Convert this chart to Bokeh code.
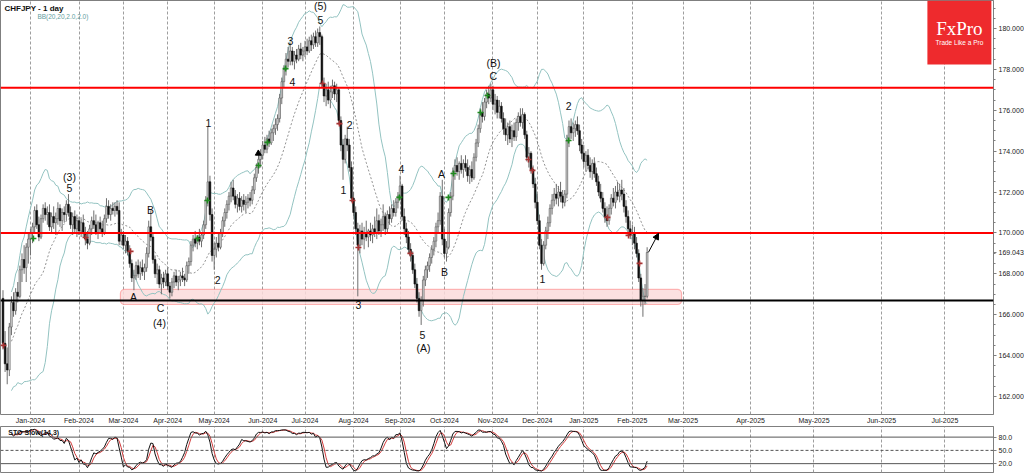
import numpy as np
import pandas as pd
from bokeh.plotting import figure
from bokeh.layouts import column
from bokeh.models import (ColumnDataSource, Range1d, Span, BoxAnnotation, Label,
                          FixedTicker, NumeralTickFormatter, Arrow, NormalHead)
from bokeh.core.properties import value
from bokeh.embed import file_html
from bokeh.resources import INLINE

# ---------------- data (daily CHFJPY bars, index 0 = mid Dec 2023) ----------------
opens = [
    166.8, 164.6, 163.6, 163.3, 165.4, 166.6, 166.2, 167.1, 166.9, 168.2,
    168.7, 168.3, 169.3, 169.7, 170.0, 170.3, 171.1, 170.4, 169.8, 170.7,
    171.2, 170.9, 171.0, 170.3, 170.8, 170.5, 170.7, 171.2, 170.6, 171.0,
    170.9, 171.4, 171.0, 170.4, 170.8, 170.2, 170.6, 170.1, 170.5, 170.0,
    169.7, 169.5, 170.2, 170.6, 170.4, 170.0, 170.5, 170.2, 170.0, 170.7,
    171.3, 170.9, 171.2, 171.1, 171.3, 171.1, 169.6, 169.9, 169.4, 169.6,
    169.1, 168.5, 167.8, 167.9, 168.4, 168.0, 168.3, 168.1, 168.3, 169.0,
    170.3, 169.8, 168.7, 168.0, 168.2, 167.5, 167.8, 167.6, 168.0, 167.4,
    167.1, 167.6, 167.9, 167.6, 167.7, 167.9, 167.8, 167.7, 168.4, 168.6,
    169.4, 169.7, 169.5, 169.8, 169.6, 169.9, 170.4, 171.6, 172.5, 170.9,
    168.9, 169.2, 169.5, 169.3, 170.0, 170.6, 171.0, 171.4, 171.8, 172.2,
    171.8, 171.4, 171.7, 171.3, 171.6, 171.4, 171.5, 171.7, 171.6, 172.1,
    172.7, 173.2, 173.6, 173.8, 174.3, 174.1, 174.6, 174.4, 174.9, 175.1,
    175.3, 175.6, 176.6, 177.4, 178.0, 178.5, 178.4, 178.9, 178.4, 178.7,
    178.5, 179.0, 178.7, 178.9, 179.1, 178.9, 179.4, 179.2, 179.6, 179.3,
    179.8, 179.6, 177.3, 176.7, 177.0, 176.5, 176.9, 177.2, 176.8, 177.0,
    175.5, 174.3, 173.6, 174.6, 174.3, 173.2, 171.7, 171.0, 170.2, 169.4,
    170.1, 169.7, 170.0, 169.8, 170.1, 169.9, 170.2, 170.0, 170.6, 170.1,
    170.4, 170.8, 170.2, 170.9, 170.7, 171.2, 171.0, 171.5, 171.8, 172.3,
    170.8, 170.2, 169.8, 169.2, 168.9, 168.2, 167.5, 166.8, 166.2, 166.7,
    167.7, 168.2, 168.4, 168.8, 169.2, 169.6, 170.3, 170.6, 171.8, 169.7,
    169.0, 169.3, 171.0, 171.8, 173.0, 173.3, 173.0, 173.4, 173.1, 173.4,
    173.2, 172.8, 173.1, 172.7, 173.7, 174.4, 175.1, 175.9, 175.7, 176.4,
    176.8, 176.6, 177.0, 176.3, 176.5, 175.9, 176.2, 175.6, 175.1, 174.8,
    175.2, 174.6, 175.0, 174.7, 175.4, 175.7, 175.4, 175.8, 174.8, 173.7,
    173.9, 173.1, 172.4, 171.5, 170.6, 169.4, 168.5, 169.4, 170.1, 170.5,
    171.2, 171.6, 171.9, 171.7, 172.0, 171.8, 171.5, 171.9, 174.5, 175.2,
    174.9, 175.1, 175.3, 175.0, 174.3, 173.9, 173.5, 173.8, 173.3, 173.0,
    173.4, 172.9, 172.5, 172.0, 171.7, 171.2, 170.8, 170.6, 171.2, 171.7,
    171.5, 172.0, 171.8, 172.1, 171.9, 171.3, 170.8, 170.2, 169.9, 170.0,
    169.5, 169.0, 167.8, 166.7, 166.9, 166.9,
]
highs = [
    167.2, 165.2, 164.4, 165.6, 166.9, 167.1, 167.3, 167.6, 168.4, 169.0,
    169.4, 169.5, 170.0, 170.2, 170.5, 171.3, 171.4, 170.8, 170.9, 171.4,
    171.5, 171.3, 171.4, 171.0, 171.3, 171.0, 171.5, 171.4, 171.2, 171.3,
    171.6, 171.9, 171.3, 171.0, 171.1, 170.9, 170.8, 170.7, 170.9, 170.3,
    170.1, 170.4, 170.8, 171.1, 170.9, 170.6, 170.8, 170.6, 170.9, 171.7,
    171.6, 171.4, 171.5, 171.5, 171.6, 171.5, 170.2, 170.1, 169.9, 169.8,
    169.4, 168.7, 168.2, 168.6, 168.7, 168.6, 168.7, 168.5, 169.3, 170.6,
    171.1, 170.0, 168.9, 168.5, 168.4, 168.0, 168.1, 168.2, 168.3, 167.6,
    167.8, 168.1, 168.2, 167.9, 168.1, 168.3, 168.0, 168.6, 168.8, 169.6,
    169.9, 170.1, 169.9, 170.2, 170.0, 170.6, 171.8, 175.2, 172.8, 171.2,
    169.5, 169.8, 170.0, 170.2, 170.8, 171.2, 171.6, 172.0, 172.5, 172.6,
    172.1, 171.9, 172.0, 171.8, 171.9, 171.8, 171.9, 172.0, 172.3, 172.9,
    173.4, 173.9, 174.1, 174.5, 174.7, 174.8, 175.0, 175.1, 175.3, 175.6,
    175.8, 176.8, 177.6, 178.2, 178.8, 179.1, 179.3, 179.1, 178.9, 179.0,
    179.2, 179.3, 179.1, 179.4, 179.5, 179.6, 179.7, 179.8, 179.9, 180.0,
    180.1, 179.7, 177.6, 177.3, 177.4, 177.2, 177.5, 177.4, 177.3, 177.1,
    175.7, 174.6, 174.8, 175.2, 174.6, 173.5, 172.0, 171.3, 170.5, 170.4,
    170.5, 170.3, 170.6, 170.2, 170.5, 170.4, 170.8, 171.2, 170.9, 170.7,
    171.4, 171.0, 171.1, 171.3, 171.4, 171.6, 171.7, 172.0, 172.8, 172.4,
    171.2, 170.5, 170.1, 169.5, 169.1, 168.5, 167.8, 167.1, 166.9, 167.9,
    168.4, 168.6, 169.0, 169.4, 169.8, 170.5, 171.0, 172.0, 172.6, 170.2,
    169.6, 171.2, 172.0, 173.2, 173.6, 173.7, 173.5, 173.8, 173.6, 173.8,
    173.6, 173.3, 173.5, 173.9, 174.6, 175.3, 176.1, 176.4, 176.6, 177.0,
    177.2, 177.3, 177.2, 176.8, 176.7, 176.5, 176.4, 175.9, 175.6, 175.4,
    175.5, 175.3, 175.4, 175.6, 175.9, 176.1, 176.1, 175.9, 175.0, 174.2,
    174.0, 173.3, 172.7, 171.9, 170.9, 169.7, 169.6, 170.3, 170.8, 171.4,
    171.9, 172.2, 172.4, 172.3, 172.5, 172.1, 172.1, 174.8, 175.5, 175.6,
    175.4, 175.5, 175.7, 175.3, 174.6, 174.3, 174.0, 174.1, 173.7, 173.6,
    173.7, 173.2, 172.8, 172.4, 172.0, 171.5, 171.3, 171.4, 171.9, 172.2,
    172.3, 172.5, 172.4, 172.6, 172.2, 171.6, 171.1, 170.6, 170.4, 170.3,
    169.8, 169.2, 168.0, 167.3, 167.5, 169.3,
]
lows = [
    164.3, 163.2, 162.6, 163.0, 165.0, 165.9, 166.0, 166.6, 166.8, 167.6,
    168.0, 167.6, 168.5, 168.9, 169.5, 170.0, 170.2, 169.6, 169.7, 170.5,
    170.6, 170.4, 170.1, 170.0, 170.2, 169.9, 170.4, 170.3, 170.1, 170.5,
    170.6, 170.8, 170.2, 169.9, 170.0, 169.8, 169.9, 169.8, 169.8, 169.4,
    169.2, 169.4, 169.9, 170.2, 169.9, 169.7, 170.0, 169.8, 169.9, 170.5,
    170.7, 170.6, 170.9, 170.8, 170.9, 169.4, 169.4, 169.2, 169.0, 168.9,
    168.3, 167.6, 167.2, 167.7, 167.8, 167.7, 167.9, 167.7, 168.1, 168.8,
    169.6, 168.5, 167.8, 167.5, 167.3, 167.0, 167.3, 167.4, 167.2, 166.8,
    166.9, 167.3, 167.4, 167.2, 167.4, 167.6, 167.4, 167.6, 168.0, 168.4,
    169.1, 169.3, 169.2, 169.4, 169.3, 169.7, 170.2, 171.3, 170.6, 168.6,
    168.2, 168.8, 169.1, 169.2, 169.8, 170.3, 170.7, 171.1, 171.5, 171.6,
    171.2, 171.0, 171.1, 171.0, 171.1, 171.0, 171.2, 171.3, 171.4, 171.9,
    172.5, 172.9, 173.2, 173.6, 173.9, 173.9, 174.2, 174.3, 174.5, 174.8,
    175.0, 175.4, 176.3, 177.1, 177.7, 178.1, 178.2, 178.2, 178.0, 178.3,
    178.4, 178.5, 178.4, 178.6, 178.7, 178.8, 178.9, 179.0, 179.1, 179.1,
    179.2, 177.1, 176.4, 176.2, 176.3, 176.1, 176.6, 176.5, 176.4, 175.3,
    174.0, 172.6, 173.4, 174.0, 173.0, 171.5, 170.8, 169.9, 166.9, 169.0,
    169.4, 169.2, 169.6, 169.3, 169.6, 169.5, 169.8, 169.7, 169.9, 169.8,
    170.1, 169.9, 170.0, 170.4, 170.5, 170.8, 170.8, 171.2, 171.6, 170.6,
    169.9, 169.5, 169.0, 168.6, 168.0, 167.3, 166.6, 165.9, 165.5, 166.4,
    167.4, 167.8, 168.1, 168.5, 168.9, 169.3, 170.0, 170.4, 169.4, 168.8,
    168.6, 169.2, 170.8, 171.6, 172.6, 172.8, 172.6, 172.9, 172.7, 173.0,
    172.5, 172.4, 172.5, 172.6, 173.5, 174.2, 174.9, 175.4, 175.5, 176.1,
    176.3, 176.4, 176.0, 175.8, 175.6, 175.6, 175.4, 174.8, 174.5, 174.3,
    174.4, 174.2, 174.5, 174.5, 175.0, 175.2, 175.1, 174.6, 173.5, 173.2,
    172.9, 172.2, 171.2, 170.4, 169.2, 168.2, 168.4, 169.2, 169.7, 170.3,
    170.9, 171.3, 171.4, 171.3, 171.5, 171.2, 171.3, 171.7, 174.2, 174.6,
    174.5, 174.7, 174.8, 174.0, 173.6, 173.2, 173.0, 173.1, 172.7, 172.6,
    172.7, 172.3, 171.8, 171.5, 171.0, 170.5, 170.3, 170.4, 170.9, 171.3,
    171.2, 171.6, 171.5, 171.6, 171.0, 170.5, 169.9, 169.7, 169.4, 169.2,
    168.8, 167.6, 166.4, 165.9, 166.5, 166.8,
]
closes = [
    164.6, 163.6, 163.3, 165.4, 166.6, 166.2, 167.1, 166.9, 168.2, 168.7,
    168.3, 169.3, 169.7, 170.0, 170.3, 171.1, 170.4, 169.8, 170.7, 171.2,
    170.9, 171.0, 170.3, 170.8, 170.5, 170.7, 171.2, 170.6, 171.0, 170.9,
    171.4, 171.0, 170.4, 170.8, 170.2, 170.6, 170.1, 170.5, 170.0, 169.7,
    169.5, 170.2, 170.6, 170.4, 170.0, 170.5, 170.2, 170.0, 170.7, 171.3,
    170.9, 171.2, 171.1, 171.3, 171.1, 169.6, 169.9, 169.4, 169.6, 169.1,
    168.5, 167.8, 167.9, 168.4, 168.0, 168.3, 168.1, 168.3, 169.0, 170.3,
    169.8, 168.7, 168.0, 168.2, 167.5, 167.8, 167.6, 168.0, 167.4, 167.1,
    167.6, 167.9, 167.6, 167.7, 167.9, 167.8, 167.7, 168.4, 168.6, 169.4,
    169.7, 169.5, 169.8, 169.6, 169.9, 170.4, 171.6, 172.5, 170.9, 168.9,
    169.2, 169.5, 169.3, 170.0, 170.6, 171.0, 171.4, 171.8, 172.2, 171.8,
    171.4, 171.7, 171.3, 171.6, 171.4, 171.5, 171.7, 171.6, 172.1, 172.7,
    173.2, 173.6, 173.8, 174.3, 174.1, 174.6, 174.4, 174.9, 175.1, 175.3,
    175.6, 176.6, 177.4, 178.0, 178.5, 178.4, 178.9, 178.4, 178.7, 178.5,
    179.0, 178.7, 178.9, 179.1, 178.9, 179.4, 179.2, 179.6, 179.3, 179.8,
    179.6, 177.3, 176.7, 177.0, 176.5, 176.9, 177.2, 176.8, 177.0, 175.5,
    174.3, 173.6, 174.6, 174.3, 173.2, 171.7, 171.0, 170.2, 169.4, 170.1,
    169.7, 170.0, 169.8, 170.1, 169.9, 170.2, 170.0, 170.6, 170.1, 170.4,
    170.8, 170.2, 170.9, 170.7, 171.2, 171.0, 171.5, 171.8, 172.3, 170.8,
    170.2, 169.8, 169.2, 168.9, 168.2, 167.5, 166.8, 166.2, 166.7, 167.7,
    168.2, 168.4, 168.8, 169.2, 169.6, 170.3, 170.6, 171.8, 169.7, 169.0,
    169.3, 171.0, 171.8, 173.0, 173.3, 173.0, 173.4, 173.1, 173.4, 173.2,
    172.8, 173.1, 172.7, 173.7, 174.4, 175.1, 175.9, 175.7, 176.4, 176.8,
    176.6, 177.0, 176.3, 176.5, 175.9, 176.2, 175.6, 175.1, 174.8, 175.2,
    174.6, 175.0, 174.7, 175.4, 175.7, 175.4, 175.8, 174.8, 173.7, 173.9,
    173.1, 172.4, 171.5, 170.6, 169.4, 168.5, 169.4, 170.1, 170.5, 171.2,
    171.6, 171.9, 171.7, 172.0, 171.8, 171.5, 171.9, 174.5, 175.2, 174.9,
    175.1, 175.3, 175.0, 174.3, 173.9, 173.5, 173.8, 173.3, 173.0, 173.4,
    172.9, 172.5, 172.0, 171.7, 171.2, 170.8, 170.6, 171.2, 171.7, 171.5,
    172.0, 171.8, 172.1, 171.9, 171.3, 170.8, 170.2, 169.9, 170.0, 169.5,
    169.0, 167.8, 166.7, 166.9, 166.9, 169.043,
]

month_labels = ["Jan-2024", "Feb-2024", "Mar-2024", "Apr-2024", "May-2024", "Jun-2024",
                "Jul-2024", "Aug-2024", "Sep-2024", "Oct-2024", "Nov-2024", "Dec-2024",
                "Jan-2025", "Feb-2025", "Mar-2025", "Apr-2025", "May-2025", "Jun-2025",
                "Jul-2025"]
month_pos = [13, 36, 57, 78, 100, 123, 143, 166, 188, 209, 232, 253, 275, 298,
             322, 354, 384, 416, 446]

price_ticks = [162, 164, 166, 168, 170, 172, 174, 176, 178, 180]
stoch_levels = [20, 50, 80]

resistance_levels = [177.1, 170.0]
support_level = 166.7
zone_left, zone_right = 55.6, 321.3
zone_bottom, zone_top = 166.5, 167.24
last_price = 169.043

wave_text = ["(3)", "5", "A", "B", "C", "(4)", "1", "2", "3", "4", "5", "(5)",
             "1", "2", "3", "4", "5", "(A)", "A", "B", "(B)", "C", "1", "2"]
wave_x = [31.5, 31.5, 61.8, 69.8, 74.6, 74.1, 97.3, 101.6, 136.1, 137.1, 150.3, 150.3,
          161.2, 164.1, 168.3, 188.7, 198.6, 199.1, 207.6, 209.0, 232.2, 232.2, 255.4, 267.8]
wave_y = [172.76, 172.18, 166.85, 171.10, 166.31, 165.62, 175.40, 167.68, 179.41, 177.36,
          180.44, 181.08, 172.08, 175.26, 166.50, 173.15, 164.99, 164.35, 172.86, 168.07,
          178.29, 177.70, 167.73, 176.19]

up_x = [14.4, 92.1, 96.8, 121.0, 125.2, 133.8, 187.7, 210.9, 213.3, 226.1, 229.4, 267.8]
up_y = [169.73, 169.73, 171.59, 173.30, 174.43, 178.04, 171.74, 171.74, 172.91, 175.89,
        176.72, 174.52]
down_x = [0.2, 39.1, 60.4, 151.3, 159.3, 165.5, 168.3, 192.9, 248.8, 250.7, 286.2, 296.2, 301.4]
down_y = [164.50, 169.78, 169.10, 177.31, 175.35, 171.59, 169.29, 169.0, 173.59, 173.06,
          170.76, 169.88, 168.51]
tri_x = [120.9]
tri_y = [173.89]
proj_start = (305.6, 169.05)
proj_end = (310.4, 169.98)

# ---------------- derived indicators ----------------
n = len(closes)
assert len(opens) == n and len(highs) == n and len(lows) == n
idx = np.arange(n)
cs = pd.Series(closes)
mid = cs.rolling(20, min_periods=5).mean()
sd = cs.rolling(20, min_periods=5).std(ddof=0)
upper = mid + 2 * sd
lower = mid - 2 * sd

hh = pd.Series(highs).rolling(14, min_periods=5).max()
ll = pd.Series(lows).rolling(14, min_periods=5).min()
fast = (cs - ll) / (hh - ll) * 100
k_line = fast.rolling(3, min_periods=1).mean()
d_line = k_line.rolling(3, min_periods=1).mean()

bull = [c >= o for o, c in zip(opens, closes)]
src = ColumnDataSource(dict(
    x=idx, o=opens, h=highs, l=lows, c=closes,
    top=[max(o, c) for o, c in zip(opens, closes)],
    bot=[min(o, c) for o, c in zip(opens, closes)],
    body=["#d6d6d6" if b else "#0d0d0d" for b in bull],
    edge=["#555555" if b else "#0d0d0d" for b in bull],
))

FONT = "Liberation Sans"
FW = 993
XR = Range1d(-1.18, 469.0)

p = figure(frame_width=FW, frame_height=414, x_range=XR, y_range=Range1d(161.12, 181.37),
           y_axis_location="right", toolbar_location=None, output_backend="svg",
           min_border_left=0, min_border_right=0, min_border_top=0, min_border_bottom=12,
           background_fill_color="white", border_fill_color="white",
           outline_line_color="#7f7f7f", outline_line_width=1)

# grid
p.ygrid.visible = False
p.xgrid.grid_line_color = "#9e9e9e"
p.xgrid.grid_line_dash = "3 2"
p.xgrid.grid_line_width = 1

# price axis (with the last-price tick)
minor = [162 + 0.5 * j for j in range(39)]
yax = p.yaxis[0]
yax.ticker = FixedTicker(ticks=price_ticks + [last_price], minor_ticks=minor)
yax.formatter = NumeralTickFormatter(format="0.000")
yax.major_label_text_font = FONT
yax.major_label_text_font_size = "7px"
yax.major_label_text_color = "#222222"
yax.axis_line_color = "#7f7f7f"
yax.major_tick_line_color = "#7f7f7f"
yax.minor_tick_line_color = "#7f7f7f"
yax.major_tick_out = 3
yax.major_tick_in = 0
yax.minor_tick_out = 2
yax.minor_tick_in = 0
yax.major_label_standoff = 2

xax = p.xaxis[0]
xax.ticker = FixedTicker(ticks=month_pos)
xax.major_label_overrides = {pos: lab for pos, lab in zip(month_pos, month_labels)}
xax.major_label_text_font = FONT
xax.major_label_text_font_size = "7px"
xax.major_label_text_color = "#222222"
xax.axis_line_color = None
xax.major_tick_line_color = None
xax.minor_tick_line_color = None
xax.major_tick_out = 0
xax.major_tick_in = 0
xax.major_label_standoff = 2

# support zone
p.add_layout(BoxAnnotation(left=zone_left, right=zone_right, bottom=zone_bottom, top=zone_top,
                           fill_color="#fbdada", fill_alpha=0.85, line_color="#ff2020",
                           line_width=1.2, border_radius=4, level="underlay"))

# bollinger bands
p.line(idx, upper, line_color="#93c3c1", line_width=1)
p.line(idx, lower, line_color="#93c3c1", line_width=1)
p.line(idx, mid, line_color="#777777", line_width=0.8, line_dash="2 2")

# candles
p.segment(x0="x", y0="l", x1="x", y1="h", line_color="#6e6e6e", line_width=1, source=src)
p.vbar(x="x", width=0.8, top="top", bottom="bot", fill_color="body", line_color="edge",
       line_width=0.6, source=src)

# horizontal levels
for lvl in resistance_levels:
    p.add_layout(Span(location=lvl, dimension="width", line_color="#ff0000", line_width=2))
p.add_layout(Span(location=support_level, dimension="width", line_color="#000000", line_width=2))

# signal markers
p.scatter(up_x, up_y, marker="cross", size=6, line_width=1.6, color="#1f8a1f")
p.scatter(down_x, down_y, marker="cross", size=6, line_width=1.6, color="#a83232")
p.scatter(tri_x, tri_y, marker="triangle", size=6, color="#000000")

# wave labels
wsrc = ColumnDataSource(dict(x=wave_x, y=wave_y, t=wave_text))
p.text(x="x", y="y", text="t", source=wsrc, text_font=value(FONT), text_font_size=value("10.5px"),
       text_align="center", text_baseline="middle", text_color="#111111")

# projection arrow
p.add_layout(Arrow(end=NormalHead(size=6, fill_color="black", line_color="black"),
                   x_start=proj_start[0], y_start=proj_start[1],
                   x_end=proj_end[0], y_end=proj_end[1],
                   line_color="black", line_width=1))

# titles
p.add_layout(Label(x=0.7, y=181.22, text="CHFJPY - 1 day", text_font=FONT, text_font_size="8px",
                   text_font_style="bold", text_color="#111111", text_baseline="top"))
p.add_layout(Label(x=16.3, y=180.75, text="BB(20,20,2.0,2.0)", text_font=FONT,
                   text_font_size="6.5px", text_color="#5f9ea0", text_baseline="top"))

# FxPro logo
p.add_layout(BoxAnnotation(left=437.7, right=468.0, bottom=178.24, fill_color="#ee2a2d",
                           fill_alpha=1.0, line_color=None))
p.add_layout(Label(x=452.85, y=179.98, text="FxPro", text_font="Liberation Serif",
                   text_font_size="19px", text_color="white", text_align="center",
                   text_baseline="middle"))
p.add_layout(Label(x=452.85, y=179.33, text="Trade Like a Pro", text_font=FONT,
                   text_font_size="6.5px", text_color="white", text_align="center",
                   text_baseline="middle"))

# ---------------- stochastic panel ----------------
s = figure(frame_width=FW, frame_height=46, x_range=XR, y_range=Range1d(0, 104),
           y_axis_location="right", toolbar_location=None, output_backend="svg",
           min_border_left=0, min_border_right=0, min_border_top=0, min_border_bottom=1,
           background_fill_color="white", border_fill_color="white",
           outline_line_color="#7f7f7f", outline_line_width=1)
s.xaxis.visible = False
s.ygrid.visible = False
s.xgrid.ticker = FixedTicker(ticks=month_pos)
s.xgrid.grid_line_color = "#9e9e9e"
s.xgrid.grid_line_dash = "3 2"
say = s.yaxis[0]
say.ticker = FixedTicker(ticks=stoch_levels)
say.formatter = NumeralTickFormatter(format="0.0")
say.major_label_text_font = FONT
say.major_label_text_font_size = "7px"
say.major_label_text_color = "#222222"
say.axis_line_color = "#7f7f7f"
say.major_tick_line_color = "#7f7f7f"
say.major_tick_out = 3
say.major_tick_in = 0
say.minor_tick_line_color = None
say.major_label_standoff = 2

for lvl in stoch_levels:
    s.add_layout(Span(location=lvl, dimension="width", line_color="#555555", line_width=1,
                      line_dash="3 2" if lvl == 50 else "solid"))
s.line(idx, d_line, line_color="#d23c3c", line_width=1)
s.line(idx, k_line, line_color="#111111", line_width=1)
s.add_layout(Label(x=2.5, y=91, text="STO Slow(14,3)", text_font=FONT, text_font_size="7px",
                   text_font_style="bold", text_color="#111111", text_baseline="middle"))

layout = column(p, s, spacing=0)
open("out.html", "w").write(file_html(layout, INLINE))
